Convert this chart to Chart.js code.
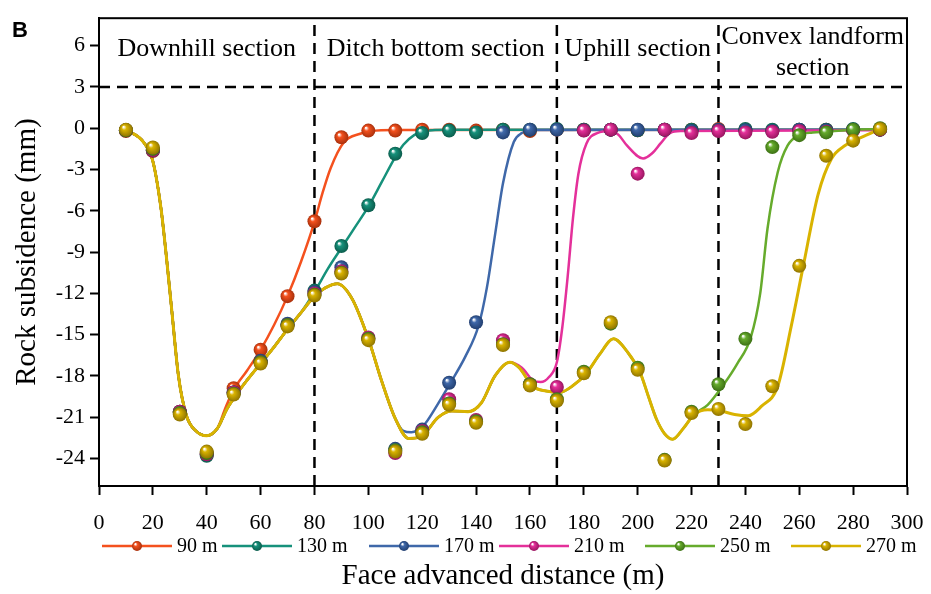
<!DOCTYPE html>
<html>
<head>
<meta charset="utf-8">
<script src="https://cdn.jsdelivr.net/npm/chart.js@4.4.1/dist/chart.umd.min.js"></script>
<style>
  html, body { margin: 0; padding: 0; background: #fff; }
</style>
</head>
<body>
<canvas id="chart" width="931" height="594"></canvas>
<script>
// Face advanced distance (m) of the measuring points
const distance = [10, 20, 30, 40, 50, 60, 70, 80, 90, 100, 110, 120, 130, 140, 150,
    160, 170, 180, 190, 200, 210, 220, 230, 240, 250, 260, 270, 280, 290]

const seriesLabels = ['90 m', '130 m', '170 m', '210 m', '250 m', '270 m']
const seriesColors = ['#f4511e', '#16917b', '#3f68a9', '#e4309a', '#66ab2c', '#d9b300']
const seriesDark = ['#a8300c', '#0b5c4c', '#223f70', '#98155f', '#3c7014', '#8f7400']

// Measured rock subsidence (mm)
const sub90 = [-0.2, -1.65, -20.6, -23.6, -18.9, -16.1, -12.2, -6.76, -0.65, -0.17, -0.17, -0.1, -0.1, -0.17, -0.1,
    -0.2, -0.1, -0.1, -0.1, -0.15, -0.1, -0.1, -0.05, -0.1, -0.15, -0.1, -0.1, -0.1, -0.1]
const sub130 = [-0.15, -1.6, -20.7, -23.8, -19.2, -17.0, -14.3, -11.8, -8.56, -5.6, -1.85, -0.34, -0.17, -0.3, -0.1,
    -0.1, -0.05, -0.1, -0.1, -0.15, -0.1, -0.1, -0.15, -0.05, -0.1, -0.1, -0.1, -0.05, -0.1]
const sub170 = [-0.15, -1.6, -20.6, -23.7, -19.2, -16.9, -14.2, -11.9, -10.1, -15.3, -23.3, -21.9, -18.5, -14.1, -0.3,
    -0.1, -0.1, -0.15, -0.1, -0.1, -0.1, -0.2, -0.1, -0.15, -0.2, -0.1, -0.15, -0.1, -0.1]
const sub210 = [-0.15, -1.6, -20.6, -23.7, -19.2, -17.0, -14.3, -12.0, -10.4, -15.2, -23.6, -22.0, -19.7, -21.2, -15.4,
    -18.6, -18.8, -0.17, -0.1, -3.3, -0.1, -0.35, -0.2, -0.3, -0.25, -0.2, -0.25, -0.15, -0.1]
const sub250 = [-0.15, -1.5, -20.7, -23.6, -19.3, -17.0, -14.3, -12.1, -10.5, -15.3, -23.4, -22.1, -20.0, -21.3, -15.7,
    -18.6, -19.7, -17.7, -14.2, -17.4, -24.1, -20.6, -18.6, -15.3, -1.37, -0.5, -0.3, -0.1, 0]
const sub270 = [-0.1, -1.4, -20.8, -23.5, -19.35, -17.1, -14.4, -12.15, -10.55, -15.4, -23.5, -22.2, -20.1, -21.4, -15.75,
    -18.7, -19.8, -17.8, -14.1, -17.55, -24.15, -20.7, -20.4, -21.5, -18.75, -10.0, -2.0, -0.9, -0.05]
const subsidence = [sub90, sub130, sub170, sub210, sub250, sub270]

// Fitted curves: a shared trunk, each series branches off at branchAt
const trunkX = [10, 16.5, 20, 23, 25, 27, 29.5, 32.5, 36, 40, 44, 47.5, 51, 55, 60, 65, 70, 75, 80, 84, 88.5,
    94, 100, 105, 110, 115, 120, 126, 131, 137, 142, 147, 152.5, 156, 161, 166, 171, 176, 181, 186, 191, 196,
    201, 204, 207, 210, 213, 217, 221, 226, 230, 236, 241, 246, 252, 257, 261.5, 267, 272, 277, 281, 286, 290]
const trunkY = [-0.1, -1.0, -2.4, -5.8, -9.3, -13.2, -18.0, -20.9, -22.0, -22.35, -21.8, -20.4, -19.35, -18.3, -17.1,
    -15.9, -14.6, -13.4, -12.2, -11.6, -11.3, -12.4, -15.3, -18.4, -21.1, -22.55, -22.35, -21.0, -20.55, -20.6,
    -19.95, -18.0, -17.0, -17.4, -18.75, -19.1, -19.2, -18.7, -17.8, -16.4, -15.3, -16.2, -17.8, -19.5, -21.15,
    -22.2, -22.6, -21.8, -20.8, -20.45, -20.5, -20.8, -20.9, -20.2, -18.75, -14.4, -10.0, -4.8, -2.2, -1.25,
    -0.85, -0.4, -0.05]
const branchAt = [45, 78, 111, 153, 222, 999]

const fit90X = [47, 50, 55, 60, 65, 70, 75, 80, 83, 86, 91, 97, 101, 110, 290]
const fit90Y = [-20.3, -19.0, -17.6, -16.1, -14.3, -12.2, -9.7, -6.8, -4.7, -2.9, -1.0, -0.4, -0.2, -0.12, -0.1]
const fit130X = [80, 85, 90, 95, 100, 105, 110, 113, 117, 121, 130, 290]
const fit130Y = [-11.9, -10.2, -8.7, -7.2, -5.7, -3.9, -2.1, -1.2, -0.5, -0.2, -0.1, -0.1]
const fit170X = [113, 116, 120.5, 125, 130.5, 136, 141, 144, 147, 150, 154, 157, 162, 290]
const fit170Y = [-22.0, -22.1, -21.6, -20.3, -18.5, -16.6, -14.3, -11.6, -7.8, -4.0, -1.0, -0.35, -0.12, -0.1]
const fit210X = [157, 161, 164, 167, 170, 172, 174, 176, 178, 181, 185, 190, 193, 196, 202, 205.5, 208.5, 212, 216, 290]
const fit210Y = [-17.4, -18.3, -18.45, -18.1, -17.0, -14.5, -10.8, -6.5, -3.3, -1.1, -0.35, -0.2, -0.5, -1.25,
    -2.2, -1.8, -1.1, -0.35, -0.2, -0.15]
const fit250X = [226, 232, 237, 242, 245.5, 248.2, 252, 255.7, 260, 265, 270, 280, 290]
const fit250Y = [-20.1, -18.6, -17.1, -15.2, -12.0, -7.3, -3.2, -1.25, -0.5, -0.3, -0.25, -0.1, -0.05]
const fit270X = []
const fit270Y = []
const fitX = [fit90X, fit130X, fit170X, fit210X, fit250X, fit270X]
const fitY = [fit90Y, fit130Y, fit170Y, fit210Y, fit250Y, fit270Y]

// Axes and mining sections
const yMin = -26
const yMax = 8
const yTicks = [-24, -21, -18, -15, -12, -9, -6, -3, 0, 3, 6]
const sectionBounds = [80, 170, 230]
const sectionTop = 3
const sectionCenters = [40, 125, 200, 265]
const sectionNames = [['Downhill section'], ['Ditch bottom section'], ['Uphill section'], ['Convex landform', 'section']]

const serif = 'Liberation Serif, Times New Roman, serif'

function fitCurve(i) {
    const pts = []
    trunkX.forEach((x, k) => { if (x < branchAt[i]) pts.push({ x, y: trunkY[k] }) })
    fitX[i].forEach((x, k) => pts.push({ x, y: fitY[i][k] }))
    return pts
}

function ballGradient(ctx2d, x, y, r, i) {
    const g = ctx2d.createRadialGradient(x - r * 0.35, y - r * 0.4, 0.5, x, y, r)
    g.addColorStop(0, '#ffffff')
    g.addColorStop(0.3, seriesColors[i])
    g.addColorStop(1, seriesDark[i])
    return g
}

function ballFill(i) {
    return ctx => {
        if (ctx.type !== 'data' || !ctx.parsed) return seriesColors[i]
        const { x, y } = ctx.chart.scales
        const px = x.getPixelForValue(ctx.parsed.x)
        const py = y.getPixelForValue(ctx.parsed.y)
        if (!Number.isFinite(px) || !Number.isFinite(py)) return seriesColors[i]
        return ballGradient(ctx.chart.ctx, px, py, 7, i)
    }
}

const datasets = []

// Section borders
sectionBounds.forEach(b => datasets.push({
    data: [{ x: b, y: yMin }, { x: b, y: yMax }],
    borderColor: '#000', borderWidth: 2.5, borderDash: [11, 7], pointRadius: 0, order: 50
}))
datasets.push({
    data: [{ x: 0, y: sectionTop }, { x: 300, y: sectionTop }],
    borderColor: '#000', borderWidth: 2.5, borderDash: [11, 7], pointRadius: 0, order: 50
})

// Fitted curves, then measured points on top
seriesLabels.forEach((label, i) => {
    datasets.push({
        label: label + ' fit',
        data: fitCurve(i),
        borderColor: seriesColors[i],
        borderWidth: i === 5 ? 3 : 2.5,
        pointRadius: 0,
        cubicInterpolationMode: 'monotone',
        order: 40 - i
    })
})
seriesLabels.forEach((label, i) => {
    datasets.push({
        label,
        data: distance.map((x, k) => ({ x, y: subsidence[i][k] })),
        showLine: false,
        pointRadius: 7,
        pointBorderWidth: 0,
        pointBackgroundColor: ballFill(i),
        order: 20 - i
    })
})

const decorations = {
    id: 'decorations',
    afterDraw(chart) {
        const { ctx, chartArea, scales } = chart
        ctx.save()

        // Frame
        ctx.strokeStyle = '#000'
        ctx.lineWidth = 2
        ctx.strokeRect(chartArea.left, chartArea.top, chartArea.right - chartArea.left, chartArea.bottom - chartArea.top)

        // Panel letter
        ctx.fillStyle = '#000'
        ctx.font = 'bold 22px Liberation Sans, Arial, sans-serif'
        ctx.textAlign = 'left'
        ctx.textBaseline = 'alphabetic'
        ctx.fillText('B', 12, 37)

        // Section names
        ctx.font = '26px ' + serif
        ctx.textAlign = 'center'
        sectionNames.forEach((lines, s) => {
            const x = scales.x.getPixelForValue(sectionCenters[s])
            const baseValues = lines.length === 1 ? [5.25] : [6.15, 3.9]
            lines.forEach((text, l) => ctx.fillText(text, x, scales.y.getPixelForValue(baseValues[l])))
        })

        // Legend
        const legendY = 546
        const markerStart = [102, 222, 369, 499, 645, 791]
        const markerLength = 70
        ctx.font = '20px ' + serif
        ctx.textAlign = 'left'
        ctx.textBaseline = 'middle'
        seriesLabels.forEach((label, i) => {
            const x0 = markerStart[i]
            ctx.strokeStyle = seriesColors[i]
            ctx.lineWidth = 2.5
            ctx.beginPath()
            ctx.moveTo(x0, legendY)
            ctx.lineTo(x0 + markerLength, legendY)
            ctx.stroke()
            const cx = x0 + markerLength / 2
            ctx.fillStyle = ballGradient(ctx, cx, legendY, 5, i)
            ctx.beginPath()
            ctx.arc(cx, legendY, 5, 0, Math.PI * 2)
            ctx.fill()
            ctx.fillStyle = '#000'
            ctx.fillText(label, x0 + markerLength + 5, legendY + 1)
        })
        ctx.restore()
    }
}

new Chart(document.getElementById('chart'), {
    type: 'line',
    data: { datasets },
    options: {
        responsive: false,
        animation: false,
        devicePixelRatio: 1,
        layout: { padding: { top: 15, right: 24, left: 0, bottom: 0 } },
        plugins: { legend: { display: false }, tooltip: { enabled: false } },
        scales: {
            x: {
                type: 'linear',
                min: 0,
                max: 300,
                ticks: { stepSize: 20, color: '#000', font: { family: serif, size: 22 }, padding: 15, maxRotation: 0 },
                grid: { drawOnChartArea: false, tickLength: 9, tickColor: '#000', tickWidth: 2 },
                border: { color: '#000', width: 2 },
                title: {
                    display: true, text: 'Face advanced distance (m)', color: '#000',
                    font: { family: serif, size: 29 }, padding: { top: 0, bottom: 0 }
                },
                afterFit: scale => {
                    scale.height = 108
                    scale.paddingLeft = 0
                    scale.paddingRight = 0
                }
            },
            y: {
                min: yMin,
                max: yMax,
                afterBuildTicks: scale => { scale.ticks = yTicks.map(value => ({ value })) },
                ticks: { color: '#000', font: { family: serif, size: 22 }, padding: 5 },
                grid: { drawOnChartArea: false, tickLength: 9, tickColor: '#000', tickWidth: 2 },
                border: { color: '#000', width: 2 },
                title: {
                    display: true, text: 'Rock subsidence (mm)', color: '#000',
                    font: { family: serif, size: 29 }, padding: { top: 10, bottom: 0 }
                },
                afterFit: scale => { scale.width = 99 }
            }
        }
    },
    plugins: [decorations]
})
</script>
</body>
</html>
